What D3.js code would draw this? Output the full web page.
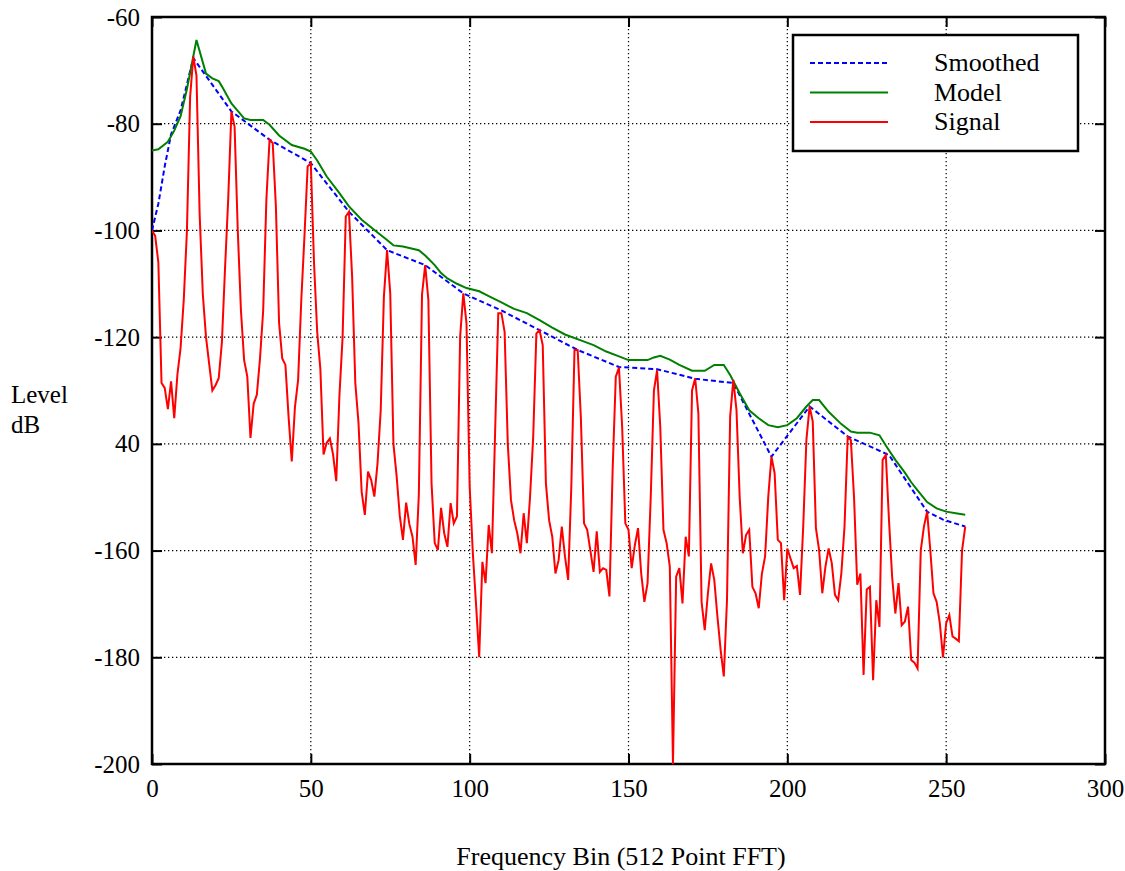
<!DOCTYPE html>
<html>
<head>
<meta charset="utf-8">
<script src="https://cdn.jsdelivr.net/npm/d3@7"></script>
<style>
  body { margin: 0; background: #fff; }
  text { font-family: "Liberation Serif", "Times New Roman", serif; fill: #000; }
</style>
</head>
<body>
<div id="chart"></div>
<script>
"use strict";

// frequency bins and levels (dB)
const signalLevels = [
    -100, -101, -106, -128.6, -129.5, -133.5, -128.3, -135.2, -127, -122,      // 0
    -113, -100, -75, -67.4, -71, -97, -112, -120, -125, -130,                  // 10
    -129, -127.7, -121, -107, -94, -77.7, -80.6, -100, -115, -124.3,           // 20
    -127.4, -138.9, -132.5, -130.8, -124, -115, -94.3, -83, -83.6, -95.5,      // 30
    -117.3, -124, -125.2, -135, -143.3, -133.1, -128, -113, -101, -88,         // 40
    -87.4, -106, -119, -126, -142, -139.8, -139, -142, -147, -131,             // 50
    -120, -97.4, -96.5, -108.7, -128.6, -136, -149, -153.3, -145.2, -146.8,    // 60
    -149.9, -143.6, -133.7, -112.4, -103.7, -111.8, -140, -146, -153.5, -158,  // 70
    -151, -155, -157.4, -162.7, -149.5, -112, -106.5, -113, -147.4, -158.6,    // 80
    -159.9, -152, -156.8, -159.3, -151.1, -154.9, -153.6, -119.9, -111.8, -117.4, // 90
    -148, -160.5, -170, -180, -162.1, -166.1, -155.2, -160.5, -138, -115.5,    // 100
    -115.5, -119, -140, -150.5, -154.3, -156.8, -160.5, -153, -158.6, -150,    // 110
    -138.7, -119.3, -118.7, -121.5, -147.4, -154.3, -157.4, -164.3, -161.8, -155.5, // 120
    -161.1, -165.5, -148, -122.4, -122.4, -135, -154.9, -156.1, -160, -164,    // 130
    -156.4, -164, -163.3, -163.6, -168.6, -145, -127.4, -125.7, -136.8, -154.9, // 140
    -156.1, -163.3, -159, -155.8, -164.3, -169.6, -166.1, -150, -130, -126.2,  // 150
    -136.8, -156.1, -158.6, -163, -200, -164.9, -163.3, -169.9, -157.4, -161.1, // 160
    -130, -127.7, -134.3, -169.6, -174.9, -168, -162.4, -165.5, -172.4, -178.6, // 170
    -183.6, -169.3, -134.9, -128, -133.7, -150, -160.5, -157.1, -156.1, -166.8, // 180
    -168, -170.8, -164.3, -161.1, -149.9, -142.4, -145.5, -158, -158.6, -169.3, // 190
    -159.6, -161.5, -163.3, -162.9, -168.3, -155.5, -139.3, -133, -135.8, -155.8, // 200
    -159.9, -168, -163, -159.6, -162.4, -168.3, -169.3, -164.3, -155.5, -138.7, // 210
    -139.3, -150, -166.4, -164.3, -183.3, -167.3, -166.8, -184.3, -169.3, -174.3, // 220
    -143, -142.1, -154.3, -165, -171.8, -166.1, -174, -173.3, -170.5, -180.5,  // 230
    -181, -182.1, -160, -155.5, -152.7, -159.9, -168, -169.6, -173.6, -180,    // 240
    -173.6, -172.1, -176.1, -176.5, -177, -160, -155.5                         // 250
];

const smoothedBins = [0, 2, 4, 6, 9, 13, 25, 37, 50, 62, 74, 86, 98, 110, 122, 134, 147, 159, 171, 183, 195, 207, 219, 232, 244, 249, 256];
const smoothedLevels = [-100, -95, -88, -82, -77.5, -67.7, -77.7, -83, -87.4, -96.5, -103.7, -106.5, -111.8, -115, -118.7, -122.4, -125.6, -126, -127.8, -128.6, -142.4, -133, -138.6, -142.1, -152.7, -154.2, -155.5];

const modelBins = [0, 2, 5, 7, 9, 11, 14, 17, 19, 21, 22, 25, 27, 29, 31, 35, 37, 40, 44, 48, 50, 52, 55, 59, 62, 66, 71, 74, 76, 79, 84, 86, 89, 91, 93, 96, 99, 103, 106, 110, 114, 118, 122, 126, 130, 135, 139, 143, 147, 150, 156, 158, 160, 163, 166, 170, 174, 177, 180, 182, 185, 188, 191, 194, 197, 200, 203, 206, 208, 210, 213, 217, 220, 222, 226, 229, 231, 234, 237, 239, 241, 244, 247, 250, 253, 256];
const modelLevels = [-85, -84.8, -83.4, -81.3, -78.6, -73.5, -64.3, -70.6, -71.5, -72, -73, -76.2, -77.6, -79, -79.3, -79.3, -80.2, -82.2, -84, -84.7, -85.2, -86.9, -89.9, -93, -95.5, -98, -100.4, -101.8, -102.8, -103, -103.7, -104.7, -106.5, -108, -109, -110, -110.8, -111.4, -112.3, -113.5, -114.7, -115.5, -116.8, -118.2, -119.5, -120.6, -121.5, -122.7, -123.6, -124.3, -124.3, -123.8, -123.5, -124.2, -125.2, -126.3, -126.3, -125.2, -125.2, -127.1, -130.5, -133.7, -135.2, -136.5, -136.9, -136.5, -135.2, -133, -131.8, -131.8, -134, -136.3, -137.7, -137.9, -137.9, -138.4, -140.3, -143, -145.4, -147.2, -148.7, -150.9, -152.1, -152.7, -153, -153.3];

const xTicks = [0, 50, 100, 150, 200, 250, 300];
const yTicks = [-200, -180, -160, -140, -120, -100, -80, -60];
const yTickLabels = ["-200", "-180", "-160", "40", "-120", "-100", "-80", "-60"];

const seriesNames = ["Smoothed", "Model", "Signal"];
const seriesColors = ["#0000ff", "#008000", "#ff0000"];

(function(){
    const measurements = {
        width: 1125,
        height: 871,
        left: 152,
        right: 1105,
        top: 17,
        bottom: 764
    };
    const fontSize = "25px";
    const serif = "'Liberation Serif', 'Times New Roman', serif";

    const svg = d3.select("#chart").append("svg")
        .attr("width", measurements.width)
        .attr("height", measurements.height);

    const scaleX = d3.scaleLinear().domain([0, 300]).range([measurements.left, measurements.right]);
    const scaleY = d3.scaleLinear().domain([-200, -60]).range([measurements.bottom, measurements.top]);

    svg.append("clipPath").attr("id", "plotClip")
        .append("rect")
        .attr("x", measurements.left).attr("y", measurements.top)
        .attr("width", measurements.right - measurements.left)
        .attr("height", measurements.bottom - measurements.top);

    drawGrid();
    drawAxes();
    drawLines();
    drawLabels();
    drawLegend();

    function drawGrid() {
        const grid = svg.append("g").attr("stroke", "#000").attr("stroke-width", 1.2)
            .attr("stroke-dasharray", "1.3,2.7");
        grid.selectAll(".vgrid").data(xTicks).enter().append("line")
            .attr("x1", d => scaleX(d)).attr("x2", d => scaleX(d))
            .attr("y1", measurements.top).attr("y2", measurements.bottom);
        grid.selectAll(".hgrid").data(yTicks).enter().append("line")
            .attr("y1", d => scaleY(d)).attr("y2", d => scaleY(d))
            .attr("x1", measurements.left).attr("x2", measurements.right);
    }

    function styleAxis(g) {
        g.attr("font-family", null).attr("font-size", null);
        g.select(".domain").remove();
        g.selectAll(".tick line").attr("stroke", "#000").attr("stroke-width", 2);
        g.selectAll("text")
            .style("font-size", fontSize)
            .style("font-family", serif)
            .attr("fill", "#000");
    }

    function drawAxes() {
        const xAxis = d3.axisBottom(scaleX).tickValues(xTicks)
            .tickSizeInner(-10).tickSizeOuter(0).tickPadding(15);
        svg.append("g").attr("transform", "translate(0," + measurements.bottom + ")")
            .call(xAxis).call(styleAxis);

        const yAxis = d3.axisLeft(scaleY).tickValues(yTicks)
            .tickSizeInner(-10).tickSizeOuter(0).tickPadding(12)
            .tickFormat((d, i) => yTickLabels[i]);
        svg.append("g").attr("transform", "translate(" + measurements.left + ",0)")
            .call(yAxis).call(styleAxis);

        // mirrored ticks on top and right
        svg.append("g").attr("transform", "translate(0," + measurements.top + ")")
            .call(d3.axisTop(scaleX).tickValues(xTicks).tickSizeInner(-10).tickSizeOuter(0).tickFormat(""))
            .call(styleAxis);
        svg.append("g").attr("transform", "translate(" + measurements.right + ",0)")
            .call(d3.axisRight(scaleY).tickValues(yTicks).tickSizeInner(-10).tickSizeOuter(0).tickFormat(""))
            .call(styleAxis);

        svg.append("rect")
            .attr("x", measurements.left).attr("y", measurements.top)
            .attr("width", measurements.right - measurements.left)
            .attr("height", measurements.bottom - measurements.top)
            .attr("fill", "none").attr("stroke", "#000").attr("stroke-width", 2.5);
    }

    function drawLines() {
        const plot = svg.append("g").attr("clip-path", "url(#plotClip)");
        const line = d3.line().x(d => scaleX(d[0])).y(d => scaleY(d[1]));

        const smoothed = smoothedBins.map((b, i) => [b, smoothedLevels[i]]);
        const model = modelBins.map((b, i) => [b, modelLevels[i]]);
        const signal = signalLevels.map((v, i) => [i, v]);

        plot.append("path").datum(smoothed)
            .attr("d", line).attr("fill", "none")
            .attr("stroke", seriesColors[0]).attr("stroke-width", 2)
            .attr("stroke-dasharray", "5,3");
        plot.append("path").datum(model)
            .attr("d", line).attr("fill", "none")
            .attr("stroke", seriesColors[1]).attr("stroke-width", 2);
        plot.append("path").datum(signal)
            .attr("d", line).attr("fill", "none")
            .attr("stroke", seriesColors[2]).attr("stroke-width", 2);
    }

    function drawLabels() {
        svg.append("text").attr("x", 11).attr("y", 403)
            .style("font-size", fontSize).text("Level");
        svg.append("text").attr("x", 11).attr("y", 433)
            .style("font-size", fontSize).text("dB");
        svg.append("text").attr("x", 621).attr("y", 865)
            .style("font-size", "26px").style("text-anchor", "middle")
            .text("Frequency Bin (512 Point FFT)");
    }

    function drawLegend() {
        svg.append("rect")
            .attr("x", 793).attr("y", 35).attr("width", 285).attr("height", 116)
            .attr("fill", "#fff").attr("stroke", "#000").attr("stroke-width", 2.5);

        const legend = svg.selectAll(".legend")
            .data(seriesNames)
            .enter().append("g")
            .attr("class", "legend")
            .attr("transform", (d, i) => "translate(0," + (63 + i * 29.5) + ")");

        legend.append("line")
            .attr("x1", 810).attr("x2", 888).attr("y1", 0).attr("y2", 0)
            .attr("stroke", (d, i) => seriesColors[i]).attr("stroke-width", 2)
            .attr("stroke-dasharray", (d, i) => i === 0 ? "5,3" : null);

        legend.append("text")
            .attr("x", 934).attr("y", 8)
            .style("font-size", "26px")
            .text(d => d);
    }
})();
</script>
</body>
</html>
